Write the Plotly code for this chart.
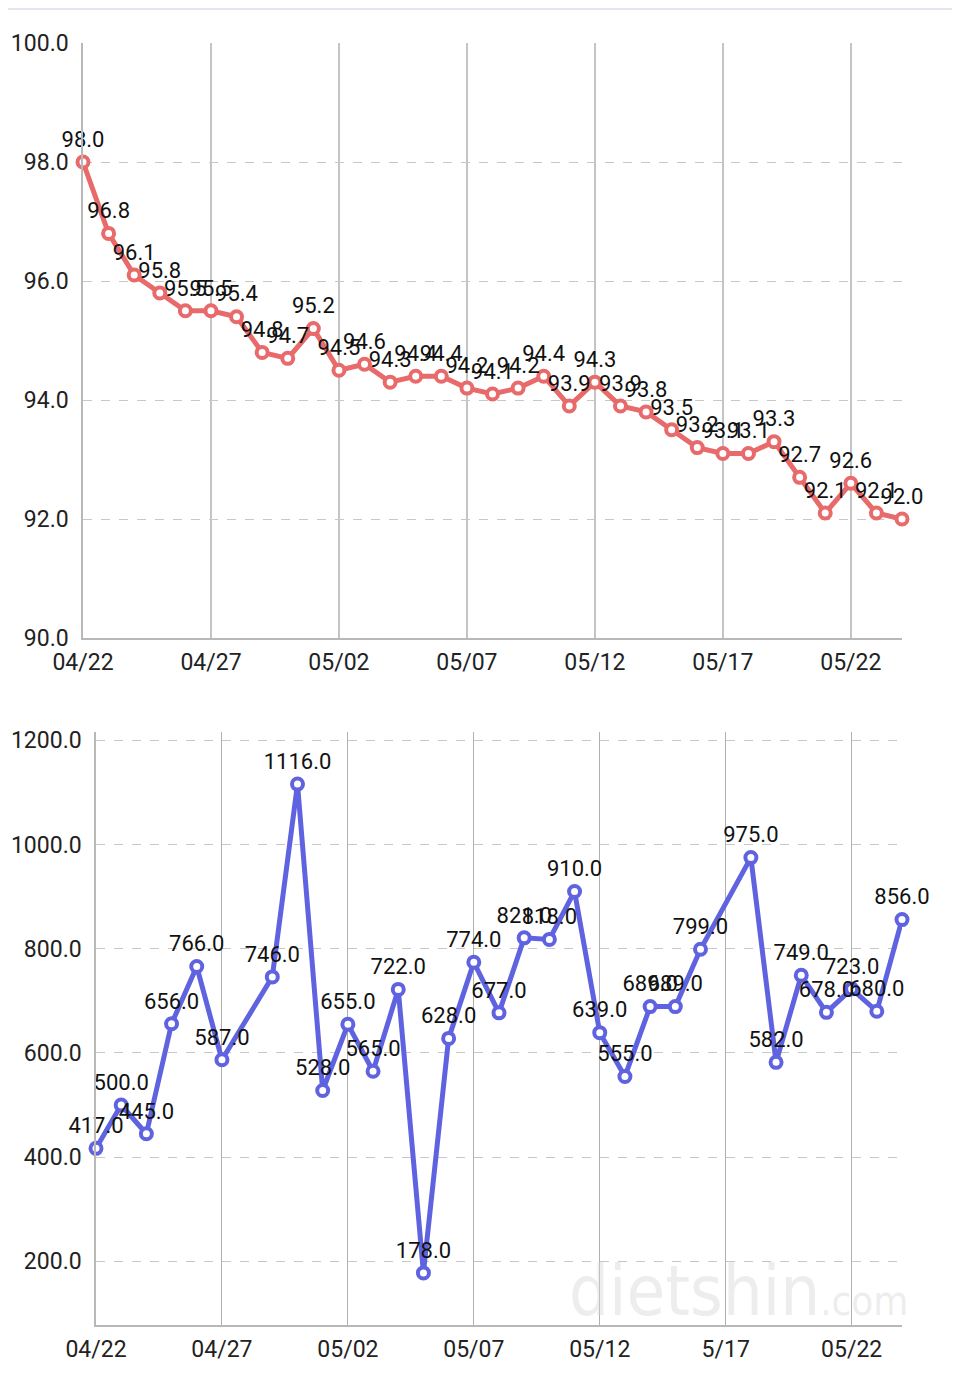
import plotly.graph_objects as go

# The page body has an 8px margin, so the figure is drawn 8px in from the
# window's top-left corner; all pixel positions below are window positions.
OFF = 8
W, H = 960 - OFF, 1384 - 2 * OFF

# ---------------- data ----------------
weight_dates = [
    "2024-04-22", "2024-04-23", "2024-04-24", "2024-04-25", "2024-04-26",
    "2024-04-27", "2024-04-28", "2024-04-29", "2024-04-30", "2024-05-01",
    "2024-05-02", "2024-05-03", "2024-05-04", "2024-05-05", "2024-05-06",
    "2024-05-07", "2024-05-08", "2024-05-09", "2024-05-10", "2024-05-11",
    "2024-05-12", "2024-05-13", "2024-05-14", "2024-05-15", "2024-05-16",
    "2024-05-17", "2024-05-18", "2024-05-19", "2024-05-20", "2024-05-21",
    "2024-05-22", "2024-05-23", "2024-05-24",
]
weight_values = [
    98.0, 96.8, 96.1, 95.8, 95.5, 95.5, 95.4, 94.8, 94.7, 95.2,
    94.5, 94.6, 94.3, 94.4, 94.4, 94.2, 94.1, 94.2, 94.4, 93.9,
    94.3, 93.9, 93.8, 93.5, 93.2, 93.1, 93.1, 93.3, 92.7, 92.1,
    92.6, 92.1, 92.0,
]

kcal_dates = [
    "2024-04-22", "2024-04-23", "2024-04-24", "2024-04-25", "2024-04-26",
    "2024-04-27", "2024-04-29", "2024-04-30", "2024-05-01",
    "2024-05-02", "2024-05-03", "2024-05-04", "2024-05-05", "2024-05-06",
    "2024-05-07", "2024-05-08", "2024-05-09", "2024-05-10", "2024-05-11",
    "2024-05-12", "2024-05-13", "2024-05-14", "2024-05-15", "2024-05-16",
    "2024-05-18", "2024-05-19", "2024-05-20", "2024-05-21",
    "2024-05-22", "2024-05-23", "2024-05-24",
]
kcal_values = [
    417, 500, 445, 656, 766, 587, 746, 1116, 528,
    655, 565, 722, 178, 628, 774, 677, 821, 818, 910,
    639, 555, 689, 689, 799, 975, 582, 749, 678,
    723, 680, 856,
]

x_tick_dates = ["2024-04-22", "2024-04-27", "2024-05-02", "2024-05-07",
                "2024-05-12", "2024-05-17", "2024-05-22"]
weight_x_ticktext = ["04/22", "04/27", "05/02", "05/07", "05/12", "05/17", "05/22"]
kcal_x_ticktext = ["04/22", "04/27", "05/02", "05/07", "05/12", "5/17", "05/22"]
weight_y_ticks = [90, 92, 94, 96, 98, 100]
kcal_y_ticks = [200, 400, 600, 800, 1000, 1200]

# ---------------- styles ----------------
RED = "#E86A6A"
BLUE = "#5F63E0"
FONT = "Roboto"
TICK_FONT = dict(family=FONT, size=23, color="#222222")
LABEL_FONT = dict(family=FONT, size=22, color="#111111")


def px_x(p):
    return (p - OFF) / W


def px_y(p):
    return 1 - (p - OFF) / H


fig = go.Figure()

# top chart: weight
fig.add_trace(go.Scatter(
    x=weight_dates, y=weight_values, mode="lines+markers",
    line=dict(color=RED, width=5),
    marker=dict(symbol="circle", size=11, color="white", line=dict(color=RED, width=4)),
    xaxis="x", yaxis="y", cliponaxis=False, hoverinfo="skip",
))
fig.add_trace(go.Scatter(
    x=weight_dates, y=weight_values, mode="markers+text",
    text=[f"{v:.1f}" for v in weight_values], textposition="top center",
    textfont=LABEL_FONT,
    marker=dict(size=14, color="rgba(0,0,0,0)"),
    xaxis="x", yaxis="y", cliponaxis=False, hoverinfo="skip",
))

# bottom chart: kcal
fig.add_trace(go.Scatter(
    x=kcal_dates, y=kcal_values, mode="lines+markers",
    line=dict(color=BLUE, width=5),
    marker=dict(symbol="circle", size=11, color="white", line=dict(color=BLUE, width=4)),
    xaxis="x2", yaxis="y2", cliponaxis=False, hoverinfo="skip",
))
fig.add_trace(go.Scatter(
    x=kcal_dates, y=kcal_values, mode="markers+text",
    text=[f"{v:.1f}" for v in kcal_values], textposition="top center",
    textfont=LABEL_FONT,
    marker=dict(size=14, color="rgba(0,0,0,0)"),
    xaxis="x2", yaxis="y2", cliponaxis=False, hoverinfo="skip",
))

common_x = dict(
    type="date", tickvals=x_tick_dates, tickfont=TICK_FONT,
    showgrid=True, griddash="solid", zeroline=False,
    showline=True, linecolor="#b8b8b8", linewidth=1.5,
    ticks="", ticklabelstandoff=3, automargin=False,
)
common_y = dict(
    tickfont=TICK_FONT, tickformat=".1f",
    showgrid=True, griddash="dash", gridcolor="#c8c8c8", gridwidth=1.2,
    zeroline=False, showline=True, linecolor="#b8b8b8", linewidth=1.5,
    ticks="", ticklabelstandoff=8, automargin=False,
)

fig.update_layout(
    template="none",
    width=W, height=H,
    margin=dict(l=0, r=0, t=0, b=0, pad=0),
    paper_bgcolor="white", plot_bgcolor="white",
    showlegend=False,
    font=dict(family=FONT),
    xaxis=dict(common_x, domain=[px_x(83), px_x(902)], anchor="y",
               range=[weight_dates[0], weight_dates[-1]],
               ticktext=weight_x_ticktext, gridcolor="#c4c4c4", gridwidth=1.8),
    yaxis=dict(common_y, domain=[px_y(638), px_y(43)], anchor="x",
               range=[90, 100], tickvals=weight_y_ticks),
    xaxis2=dict(common_x, domain=[px_x(96), px_x(902)], anchor="y2",
                range=[kcal_dates[0], kcal_dates[-1]],
                ticktext=kcal_x_ticktext, gridcolor="#b0b0b0", gridwidth=1.2),
    yaxis2=dict(common_y, domain=[px_y(1325), px_y(732)], anchor="x2",
                range=[78, 1216], tickvals=kcal_y_ticks),
    shapes=[dict(type="rect", xref="paper", yref="paper",
                 x0=0, x1=1, y0=px_y(10), y1=1,
                 fillcolor="#E6E3EE", line=dict(width=0), layer="below")],
    annotations=[dict(
        xref="paper", yref="paper", x=px_x(910), y=px_y(1334),
        xanchor="right", yanchor="bottom", showarrow=False,
        text="dietshin<span style='font-size:40px'>.com</span>",
        font=dict(family="DejaVu Sans Condensed", size=70,
                  color="rgba(215,215,215,0.45)"),
    )],
)

fig.write_html("out.html")
